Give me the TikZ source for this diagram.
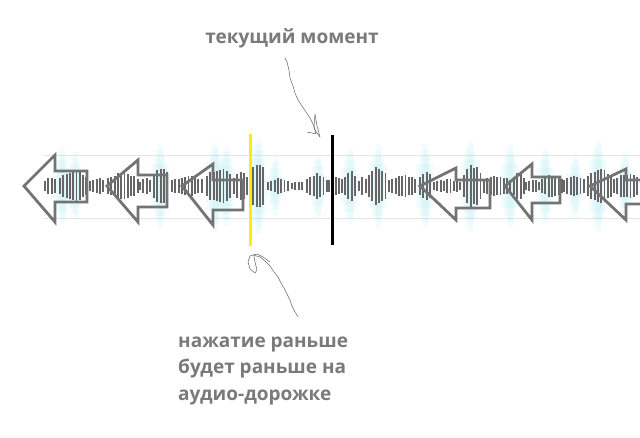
\documentclass[tikz,border=0pt]{standalone}
\usepackage{fontspec}
\setmainfont{Open Sans}
\begin{document}
\begin{tikzpicture}[x=1pt,y=-1pt,
  wave/.style={draw=black!60,line width=1.9pt},
  glow/.style={fill={rgb,255:red,140;green,228;blue,235},opacity=0.09},
  bigarrow/.style={draw=black!55,line width=2.8pt,line join=miter},
  label/.style={font=\bfseries\fontsize{19}{26.5}\selectfont,text=black!52,inner sep=0pt},
  hand/.style={draw=black!60,line width=0.5pt,line join=round,line cap=round}]
\useasboundingbox[fill=white] (0,0) rectangle (640,437);
% band
\draw[black!10,line width=0.8pt] (43,155) -- (640,155);
\draw[black!10,line width=0.8pt] (43,218) -- (640,218);
% glow
\foreach \gx/\gh in {62/26,75/22,160/30,215/32,226/28,258/36,275/18,318/20,350/26,378/30,425/30,470/34,510/30,545/26,575/20,598/34,625/22}{
  \fill[glow] (\gx-9,186-\gh+8) rectangle (\gx+9,186+\gh-8);
  \fill[glow] (\gx-6,186-\gh) rectangle (\gx+6,186+\gh);
  \fill[glow] (\gx-4,186-\gh-6) rectangle (\gx+4,186+\gh+6);
  \fill[glow] (\gx-2.5,186-\gh-12) rectangle (\gx+2.5,186+\gh+12);
}
% waveform
\pgfmathsetseed{11}
\foreach \a/\b/\hh in {45/58/9, 60/88/16, 90/106/8, 108/138/14, 140/152/9, 154/170/21, 172/205/11, 207/232/19, 234/248/15, 250/266/25, 268/290/8, 292/305/5, 307/327/13, 329/343/11, 345/357/16, 359/367/10, 369/387/20, 389/418/11, 420/432/16, 434/462/7, 464/482/22, 484/512/11, 514/524/16, 526/540/7, 542/562/12, 564/586/11, 588/612/18, 614/640/13}{
  \pgfmathsetmacro{\n}{int((\b-\a)/3.3)}
  \foreach \k in {0,...,\n}{
    \pgfmathsetmacro{\xx}{\a+3.3*\k}
    \pgfmathsetmacro{\h}{max(2.5,\hh*(0.6+0.4*sin(180*(\xx-\a)/(\b-\a+0.01)))*(0.8+0.2*rnd))}
    \draw[wave] (\xx,186-\h) -- (\xx,186+\h);
  }
}
% hollow arrows
\foreach \t/\hd/\tp/\bt/\e/\st/\sb in {24/55/155/222/87/171/202, 107/138/160/222/167/175/207, 182/213/164/225/243/180/210, 420/456/168/220/490/180/208, 505/532/164/220/560/177/203, 590/626/169/220/650/180/204}{
  \draw[bigarrow] (\t,186) -- (\hd,\tp) -- (\hd,\st) -- (\e,\st) -- (\e,\sb) -- (\hd,\sb) -- (\hd,\bt) -- cycle;
}
% marker lines
\coordinate (ytop) at (250,134);
\coordinate (ybot) at (250,246);
\coordinate (btop) at (332,135);
\coordinate (bbot) at (332,245);
\draw[yellow!95!orange,line width=3pt] (ytop) -- (ybot);
\draw[black,line width=3pt] (btop) -- (bbot);
% labels
\node[label,anchor=base] (cur) at (292,43) {текущий момент};
\node[label,anchor=base west,align=left] (early) at (178,400) {нажатие раньше\\будет раньше на\\аудио-дорожке};
% hand drawn arrows
\coordinate (h1s) at (285,58);
\coordinate (h1e) at (320,137);
\draw[hand] (h1s) -- (287,62) -- (289,70) -- (290,78) -- (293,86) -- (295,93) -- (298,100) -- (302,106) -- (306,112) -- (310,118) -- (313,124) -- (315,130) -- (h1e);
\draw[hand] (h1e) -- (317,126) -- (315,114) -- (314,126) -- (316,134) -- (312,133) -- (307,132);
\coordinate (h2s) at (298,317);
\coordinate (h2e) at (253,255);
\draw[hand] (h2s) -- (295,312) -- (292,306) -- (290,300) -- (287,294) -- (284,288) -- (281,283) -- (278,277) -- (274,272) -- (270,266) -- (265,261) -- (260,257) -- (h2e) -- (257,254) -- (263,257) -- (270,262);
\draw[hand] (h2e) -- (250,256) -- (248,262) -- (250,269) -- (255,273) -- (257,270) -- (255,262) -- (254,256);
\end{tikzpicture}
\end{document}
